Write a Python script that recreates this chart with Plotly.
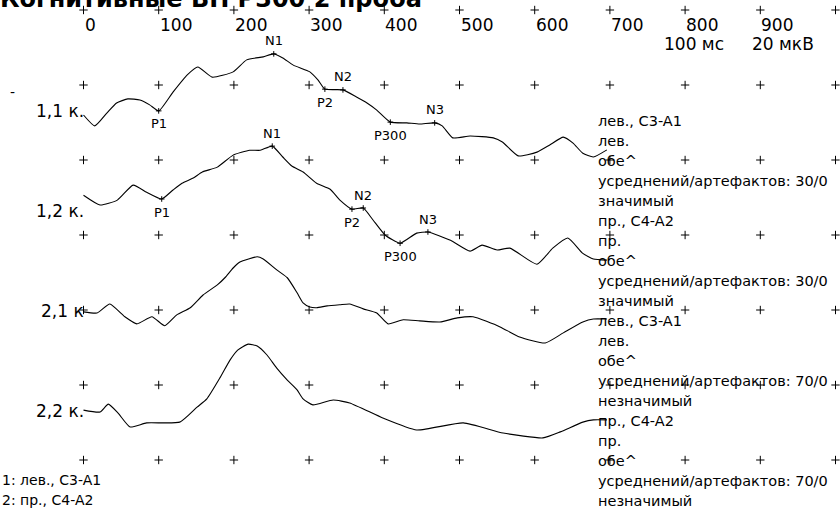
import plotly.graph_objects as go

# ---------------- data ----------------
TITLE = "Когнитивные ВП Р300 2 проба"
TICK_VALUES = [0, 100, 200, 300, 400, 500, 600, 700, 800, 900]
TICK_LABELS = ["0", "100", "200", "300", "400", "500", "600", "700", "800", "900"]
GRID_X = [0, 100, 200, 300, 400, 500, 600, 700, 800, 900, 1000]
GRID_Y = [0, 20, 40, 60, 80, 100, 120]          # µV rows (20 µV per division)
SCALE_TIME = "100 мс"
SCALE_AMP = "20 мкВ"

TRACE_LABELS = ["1,1 к.", "1,2 к.", "2,1 к", "2,2 к."]
TRACE_OFFSETS = [27.2, 53.9, 80.5, 107.2]

T1 = [0, 15, 31, 44, 59, 75, 88, 100, 119, 138, 152, 171, 199, 217, 239, 253, 265, 279, 301, 312, 321,
      345, 363, 377, 390, 408, 430, 447, 467, 477, 491, 514, 545, 557, 578, 603, 620, 638, 651, 664, 678, 696]
V1 = [0.8, 3.7, 0.3, -2.4, -3.5, -3.2, -1.9, -0.3, -5.3, -9.9, -12.0, -9.3, -10.7, -13.9, -14.7, -15.5,
      -14.4, -12.5, -10.7, -8.5, -6.1, -5.9, -4.0, -2.4, -0.5, 2.7, 2.9, 3.2, 2.9, 3.7, 6.9, 6.4, 6.9, 8.0,
      11.7, 10.7, 8.8, 6.7, 8.3, 11.0, 12.0, 10.1]

T2 = [0, 22, 45, 66, 84, 104, 119, 131, 146, 158, 178, 199, 221, 235, 251, 265, 277, 292, 310, 328, 341,
      357, 372, 385, 401, 421, 443, 458, 488, 514, 530, 550, 567, 603, 624, 644, 664, 678, 696]
V2 = [-4.5, -1.9, -3.2, -7.2, -5.3, -3.5, -5.9, -7.7, -9.1, -10.7, -12.0, -15.2, -16.5, -16.5, -17.6,
      -14.7, -12.3, -10.7, -7.7, -6.1, -3.2, -0.8, -1.1, 2.1, 6.1, 8.3, 5.6, 5.3, 7.5, 10.4, 8.8, 10.1, 9.6,
      13.9, 9.6, 6.9, 11.0, 12.5, 12.8]

T3 = [0, 18, 35, 55, 71, 91, 108, 124, 142, 159, 178, 188, 199, 208, 231, 239, 257, 271, 284, 292, 301,
      310, 324, 341, 354, 372, 390, 405, 425, 447, 474, 497, 518, 554, 580, 614, 638, 664, 678, 696]
V3 = [0, 0.3, -2.1, 1.3, 3.2, 1.3, 3.7, 0.8, -1.1, -4.5, -7.2, -9.1, -11.7, -13.3, -14.7, -14.1, -11.2,
      -9.1, -5.1, -2.4, -1.3, -1.1, -1.6, -1.9, -2.1, -0.8, 0.3, 3.2, 2.1, 2.4, 2.7, 1.6, 1.3, 4.0, 6.7,
      8.3, 5.6, 2.7, 1.9, 1.9]

T4 = [0, 22, 33, 46, 62, 84, 128, 151, 164, 182, 195, 205, 219, 231, 244, 257, 271, 284, 292, 305, 332,
      354, 398, 443, 505, 558, 611, 634, 664, 678, 696]
V4 = [-0.5, 0, -2.1, 0.3, 4.0, 2.9, 2.7, -1.3, -3.5, -9.3, -13.9, -16.5, -18.1, -17.6, -15.2, -11.7,
      -8.5, -5.9, -3.5, -1.9, -3.2, -2.4, 1.6, 4.8, 2.9, 5.6, 6.9, 5.3, 2.7, 2.1, 2.1]

PEAK_NAMES = ["P1", "N1", "P2", "N2", "P300", "N3"]
PEAK1_T = [100, 253, 321, 345, 408, 467]
PEAK2_T = [104, 251, 357, 372, 421, 458]

RIGHT_TEXT = [
    "лев., C3-A1", "лев.", "обе^", "усреднений/артефактов: 30/0", "значимый",
    "пр., C4-A2", "пр.", "обе^", "усреднений/артефактов: 30/0", "значимый",
    "лев., C3-A1", "лев.", "обе^", "усреднений/артефактов: 70/0", "незначимый",
    "пр., C4-A2", "пр.", "обе^", "усреднений/артефактов: 70/0", "незначимый",
]
LEGEND_TEXT = ["1: лев., C3-A1", "2: пр., C4-A2"]

# ---------------- figure ----------------
W, H = 840, 513
FONT = "DejaVu Sans"
X0_PX, PX_PER_MS = 83.5, 0.752
Y0_PX, PX_PER_UV = 10.0, 3.75
x_range = [-X0_PX / PX_PER_MS, (W - X0_PX) / PX_PER_MS]
y_range = [(H - Y0_PX) / PX_PER_UV, -Y0_PX / PX_PER_UV]


def py(px):
    return 1 - px / H


fig = go.Figure()

gx, gy = [], []
for yv in GRID_Y:
    for xv in GRID_X:
        gx.append(xv)
        gy.append(yv)
fig.add_trace(go.Scatter(x=gx, y=gy, mode="markers", hoverinfo="skip",
                         marker=dict(symbol="cross-thin", size=6, color="black",
                                     line=dict(width=1, color="black"))))

series = [(T1, V1), (T2, V2), (T3, V3), (T4, V4)]
annotations = []
for (t, v), off, lab in zip(series, TRACE_OFFSETS, TRACE_LABELS):
    fig.add_trace(go.Scatter(x=t, y=[off + a for a in v], mode="lines",
                             line=dict(color="black", width=1.1, shape="spline", smoothing=0.5),
                             hoverinfo="skip"))
    annotations.append(dict(x=3, y=off, xref="x", yref="y", text=lab, showarrow=False,
                            xanchor="right", yanchor="middle", yshift=1,
                            font=dict(size=17, color="black")))

for (t, v), off, peaks in [((T1, V1), TRACE_OFFSETS[0], PEAK1_T), ((T2, V2), TRACE_OFFSETS[1], PEAK2_T)]:
    px_, py_ = [], []
    for name, pt in zip(PEAK_NAMES, peaks):
        val = off + v[t.index(pt)]
        px_.append(pt)
        py_.append(val)
        up = name.startswith("N")
        annotations.append(dict(x=pt, y=val, xref="x", yref="y", text=name, showarrow=False,
                                xanchor="center", yanchor="middle", yshift=13 if up else -13,
                                font=dict(size=13, color="black")))
    fig.add_trace(go.Scatter(x=px_, y=py_, mode="markers", hoverinfo="skip",
                             marker=dict(symbol="cross-thin", size=4, color="black",
                                         line=dict(width=1, color="black"))))

for tv, tl in zip(TICK_VALUES, TICK_LABELS):
    annotations.append(dict(x=tv, y=py(25), xref="x", yref="paper", text=tl, showarrow=False,
                            xanchor="left", yanchor="middle", xshift=-1,
                            font=dict(size=17, color="black")))

annotations.append(dict(x=694 / W, y=py(44), xref="paper", yref="paper", text=SCALE_TIME,
                        showarrow=False, xanchor="center", yanchor="middle", font=dict(size=17, color="black")))
annotations.append(dict(x=783 / W, y=py(44), xref="paper", yref="paper", text=SCALE_AMP,
                        showarrow=False, xanchor="center", yanchor="middle", font=dict(size=17, color="black")))

annotations.append(dict(x=-2 / W, y=py(-1), xref="paper", yref="paper", text="<b>" + TITLE + "</b>",
                        showarrow=False, xanchor="left", yanchor="middle", font=dict(size=24, color="black")))

annotations.append(dict(x=12 / W, y=py(92), xref="paper", yref="paper", text="-", showarrow=False,
                        xanchor="center", yanchor="middle", font=dict(size=14, color="black")))

for i, line in enumerate(RIGHT_TEXT):
    annotations.append(dict(x=596 / W, y=py(121 + 20 * i), xref="paper", yref="paper", text=line,
                            showarrow=False, xanchor="left", yanchor="middle",
                            font=dict(size=14.5, color="black")))

for i, line in enumerate(LEGEND_TEXT):
    annotations.append(dict(x=0, y=py(480 + 20 * i), xref="paper", yref="paper", text=line,
                            showarrow=False, xanchor="left", yanchor="middle",
                            font=dict(size=14, color="black")))

fig.update_layout(
    width=W, height=H, margin=dict(l=0, r=0, t=0, b=0),
    paper_bgcolor="white", plot_bgcolor="white", showlegend=False,
    font=dict(family=FONT, color="black"),
    xaxis=dict(range=x_range, visible=False, fixedrange=True),
    yaxis=dict(range=y_range, visible=False, fixedrange=True),
    annotations=annotations,
)

fig.write_html("out.html")
